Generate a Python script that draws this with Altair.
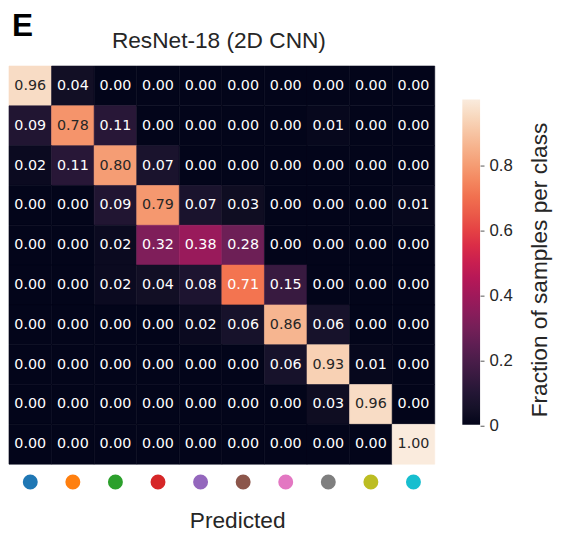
import altair as alt
import pandas as pd

# ---- data ----
classes = list(range(10))
class_colors = ["#1f77b4", "#ff7f0e", "#2ca02c", "#d62728", "#9467bd",
                "#8c564b", "#e377c2", "#7f7f7f", "#bcbd22", "#17becf"]

row0 = [0.96, 0.04, 0.00, 0.00, 0.00, 0.00, 0.00, 0.00, 0.00, 0.00]
row1 = [0.09, 0.78, 0.11, 0.00, 0.00, 0.00, 0.00, 0.01, 0.00, 0.00]
row2 = [0.02, 0.11, 0.80, 0.07, 0.00, 0.00, 0.00, 0.00, 0.00, 0.00]
row3 = [0.00, 0.00, 0.09, 0.79, 0.07, 0.03, 0.00, 0.00, 0.00, 0.01]
row4 = [0.00, 0.00, 0.02, 0.32, 0.38, 0.28, 0.00, 0.00, 0.00, 0.00]
row5 = [0.00, 0.00, 0.02, 0.04, 0.08, 0.71, 0.15, 0.00, 0.00, 0.00]
row6 = [0.00, 0.00, 0.00, 0.00, 0.02, 0.06, 0.86, 0.06, 0.00, 0.00]
row7 = [0.00, 0.00, 0.00, 0.00, 0.00, 0.00, 0.06, 0.93, 0.01, 0.00]
row8 = [0.00, 0.00, 0.00, 0.00, 0.00, 0.00, 0.00, 0.03, 0.96, 0.00]
row9 = [0.00, 0.00, 0.00, 0.00, 0.00, 0.00, 0.00, 0.00, 0.00, 1.00]
rows = [row0, row1, row2, row3, row4, row5, row6, row7, row8, row9]

colorbar_ticks = [0, 0.2, 0.4, 0.6, 0.8]

# rocket colormap stops
rocket_domain = [0, 1/7, 2/7, 3/7, 4/7, 5/7, 6/7, 1]
rocket_range = ["#03051A", "#35193e", "#701f57", "#ad1759",
                "#e13342", "#f37651", "#f6b48f", "#FAEBDD"]

records = []
for i, row in enumerate(rows):
    for j, v in enumerate(row):
        records.append({"true": i, "pred": j, "value": v, "label": f"{v:.2f}"})
df = pd.DataFrame(records)
circles_df = pd.DataFrame({"pred": classes, "hex": class_colors})
ticks_df = pd.DataFrame({"v": colorbar_ticks})

W, H = 432, 404
SANS = "Liberation Sans"

xenc = alt.X("pred:O", axis=None, scale=alt.Scale(paddingInner=0, paddingOuter=0))
yenc = alt.Y("true:O", axis=None, scale=alt.Scale(paddingInner=0, paddingOuter=0))
rocket = alt.Scale(domain=rocket_domain, range=rocket_range)

heat = alt.Chart(df).mark_rect(strokeWidth=0.6).encode(
    x=xenc, y=yenc,
    color=alt.Color(
        "value:Q", scale=rocket,
        legend=alt.Legend(
            title=None, orient="none", legendX=460, legendY=34,
            direction="vertical",
            gradientLength=330, gradientThickness=18, gradientStrokeWidth=0,
            labelExpr="''",
        ),
    ),
    stroke=alt.Stroke("value:Q", scale=rocket, legend=None),
)

txt = alt.Chart(df).mark_text(font="DejaVu Sans", fontSize=14.5).encode(
    x=xenc, y=yenc, text="label:N",
    color=alt.condition(alt.datum.value > 0.75, alt.value("#262626"), alt.value("#ffffff")),
)

circles = alt.Chart(circles_df).mark_circle(size=230, opacity=1).encode(
    x=xenc, y=alt.value(H + 18),
    color=alt.Color("hex:N", scale=None),
)

# colorbar ticks/labels as an axis on its own scale
cbar_axis = alt.Chart(ticks_df).mark_point(opacity=0).encode(
    y=alt.Y("v:Q",
            scale=alt.Scale(domain=[0, 1], range=[365, 35]),
            axis=alt.Axis(orient="right", offset=46, domain=False, grid=False,
                          values=colorbar_ticks, tickSize=4, tickWidth=1,
                          tickColor="#555555", title=None,
                          labelExpr="datum.value == 0 ? '0' : format(datum.value, '.1f')",
                          labelFont=SANS, labelFontSize=17, labelColor="#262626",
                          labelPadding=5, labelBaseline="middle", labelFlush=False)),
    x=alt.value(470),
)

def label(text, **kw):
    return alt.Chart(pd.DataFrame({"t": [text]})).mark_text(**kw).encode(text="t:N")

panel = label("E", font=SANS, fontSize=32, fontWeight="bold", align="left",
              baseline="alphabetic", color="black").encode(x=alt.value(3), y=alt.value(-30))
title = label("ResNet-18 (2D CNN)", font=SANS, fontSize=23, align="center",
              baseline="alphabetic", color="#262626").encode(x=alt.value(213), y=alt.value(-18))
xlabel = label("Predicted", font=SANS, fontSize=23, align="center",
               baseline="alphabetic", color="#262626").encode(x=alt.value(232), y=alt.value(469))
cbtitle = label("Fraction of samples per class", font=SANS, fontSize=23, align="center",
                baseline="alphabetic", angle=270, color="#262626").encode(
    x=alt.value(546), y=alt.value(207))

chart = alt.layer(heat, txt, circles, cbar_axis, panel, title, xlabel, cbtitle).resolve_scale(
    color="independent", y="independent"
).properties(
    width=W, height=H,
    padding={"left": 1, "top": 55, "right": 120, "bottom": 69},
    autosize=alt.AutoSizeParams(type="none"),
).configure_view(stroke=None)

chart.save("out.html", embed_options={"renderer": "svg", "actions": False})
